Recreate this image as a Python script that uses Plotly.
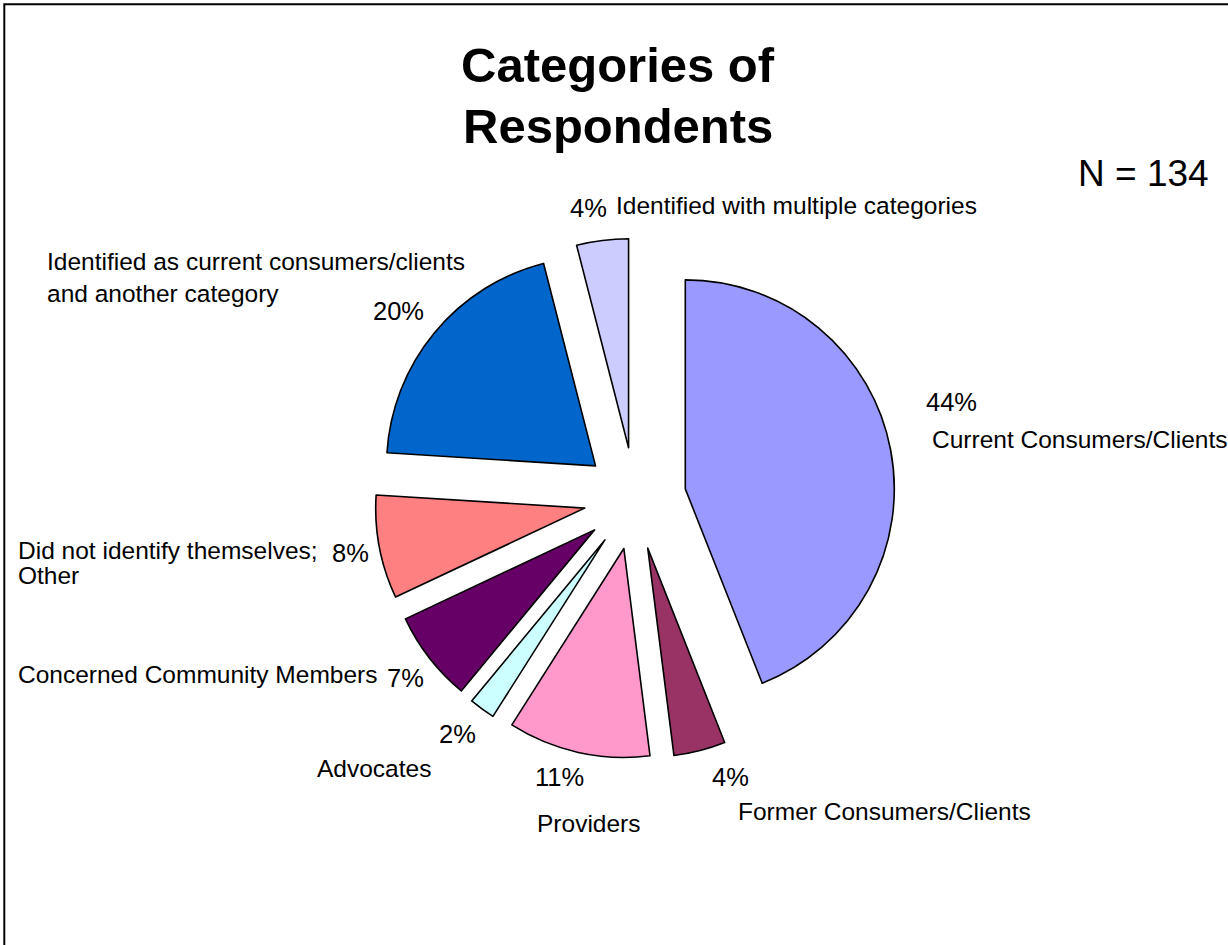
import plotly.graph_objects as go

W, H = 1228, 945

# Respondent categories, in clockwise order from 12 o'clock
categories = [
    "Current Consumers/Clients",
    "Former Consumers/Clients",
    "Providers",
    "Advocates",
    "Concerned Community Members",
    "Did not identify themselves; Other",
    "Identified as current consumers/clients and another category",
    "Identified with multiple categories",
]
percentages = [44, 4, 11, 2, 7, 8, 20, 4]
slice_colors = ["#9999FF", "#993366", "#FF99CC", "#CCFFFF",
                "#660066", "#FF8080", "#0066CC", "#CCCCFF"]

# Category names as they are broken over lines next to each slice
name_lines = [
    ["Current Consumers/Clients"],
    ["Former Consumers/Clients"],
    ["Providers"],
    ["Advocates"],
    ["Concerned Community Members"],
    ["Did not identify themselves;", "Other"],
    ["Identified as current consumers/clients", "and another category"],
    ["Identified with multiple categories"],
]
title_lines = ["Categories of", "Respondents"]
sample_note = "N = 134"

# Label placement in pixels: (left x, baseline y) for the percentage and each name line
pct_pos = [(925, 411), (711, 786), (534, 786), (438, 743),
           (386, 687), (331, 562), (372, 320), (569, 217)]
name_pos = [
    [(931, 448)],
    [(737, 820)],
    [(536, 832)],
    [(316, 777)],
    [(17, 683)],
    [(17, 559), (17, 584)],
    [(46, 270), (46, 302)],
    [(615, 214)],
]

FONT = "Liberation Sans, Arial, sans-serif"
LABEL_SIZE = 24.5
PCT_SIZE = 25.5

# Pie geometry (pixels)
cx, cy, radius, pull = 635, 498.5, 209, 0.245
half = radius * (1 + pull)

fig = go.Figure(go.Pie(
    labels=categories,
    values=percentages,
    sort=False,
    direction="clockwise",
    rotation=0,
    pull=[pull] * len(percentages),
    marker=dict(colors=slice_colors, line=dict(color="black", width=1.6)),
    textinfo="none",
    hoverinfo="label+percent",
    showlegend=False,
    domain=dict(x=[(cx - half) / W, (cx + half) / W],
                y=[1 - (cy + half) / H, 1 - (cy - half) / H]),
))


def text_at(x, baseline, text, size, bold=False, anchor="left"):
    y_mid = baseline - 0.35 * size
    fig.add_annotation(
        x=x / W, y=1 - y_mid / H, xref="paper", yref="paper",
        text=f"<b>{text}</b>" if bold else text,
        showarrow=False, xanchor=anchor, yanchor="middle",
        borderpad=0, font=dict(family=FONT, size=size, color="black"),
    )


for pct, (px, pb) in zip(percentages, pct_pos):
    text_at(px, pb, f"{pct}%", PCT_SIZE)

for lines, positions in zip(name_lines, name_pos):
    for line, (lx, lb) in zip(lines, positions):
        text_at(lx, lb, line, LABEL_SIZE)

text_at(618, 82, title_lines[0], 49, bold=True, anchor="center")
text_at(618, 143, title_lines[1], 49, bold=True, anchor="center")
text_at(1077, 186, sample_note, 37)

# Chart-area frame
fig.add_shape(type="rect", xref="paper", yref="paper",
              x0=4.3 / W, y0=-0.05, x1=1.05, y1=1 - 4.3 / H,
              line=dict(color="black", width=2), fillcolor="rgba(0,0,0,0)")

fig.update_layout(
    width=W, height=H,
    margin=dict(l=0, r=0, t=0, b=0),
    paper_bgcolor="white",
    plot_bgcolor="white",
)

fig.write_html("out.html")
